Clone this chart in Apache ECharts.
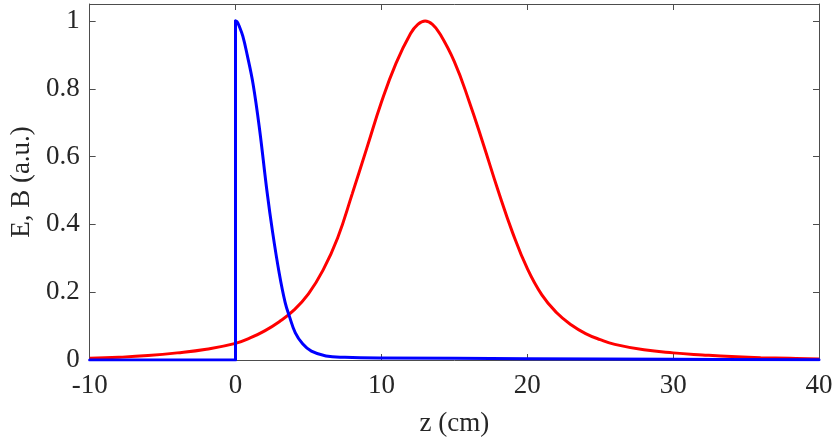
<!DOCTYPE html>
<html>
<head>
<meta charset="utf-8">
<script src="https://cdn.jsdelivr.net/npm/echarts@6/dist/echarts.min.js"></script>
<style>
    html, body { margin: 0; padding: 0; background: #fff; }
    #chart { width: 838px; height: 446px; }
</style>
</head>
<body>
<div id="chart"></div>
<script>
// red curve (E)
var redZ = [-10, -8, -6, -4, -2, 0, 1, 2, 3, 4, 5, 6, 7, 8, 9, 10, 11, 12, 12.5, 13, 13.5, 14, 15, 16, 17, 18, 19, 20, 21, 22, 23, 24, 25, 26, 28, 30, 32, 34, 36, 38, 40]
var redV = [0.005, 0.008, 0.013, 0.021, 0.032, 0.049, 0.065, 0.086, 0.113, 0.147, 0.195, 0.265, 0.36, 0.49, 0.625, 0.76, 0.875, 0.963, 0.99, 1.0, 0.99, 0.963, 0.88, 0.765, 0.635, 0.5, 0.375, 0.27, 0.192, 0.14, 0.104, 0.078, 0.06, 0.046, 0.03, 0.021, 0.015, 0.01, 0.007, 0.005, 0.003]

// blue curve (B): zero before the front, then the jump at z = 0
var blueFrontZ = [-10, 0, 0]
var blueFrontV = [0, 0, 1]
// blue decay after the front
var blueZ = [0, 0.1, 0.25, 0.5, 0.8, 1.2, 1.65, 2.15, 2.55, 3.0, 3.4, 3.7, 4.1, 4.6, 5.2, 6.2, 7.5, 10, 20, 30, 40]
var blueV = [1, 0.998, 0.985, 0.955, 0.9, 0.815, 0.68, 0.5, 0.375, 0.255, 0.17, 0.128, 0.08, 0.048, 0.026, 0.012, 0.008, 0.006, 0.004, 0.002, 0.001]

var xTicks = [-10, 0, 10, 20, 30, 40]
var yTicks = [0, 0.2, 0.4, 0.6, 0.8, 1]

function zip(a, b) {
    return a.map(function(v, i) { return [v, b[i]] })
}

var font = 'Liberation Serif'
var axisColor = '#4d4d4d'
var textColor = '#262626'

function frameAxis(extra) {
    var base = {
        type: 'value',
        axisLine: { show: true, onZero: false, lineStyle: { color: axisColor, width: 1 } },
        axisTick: { show: true, inside: true, length: 6, lineStyle: { color: axisColor } },
        axisLabel: { show: false },
        splitLine: { show: false }
    }
    return Object.assign(base, extra)
}

var myChart = echarts.init(document.getElementById('chart'))
var option = {
    animation: false,
    grid: { left: 86, right: 19, top: 4, bottom: 86 },
    xAxis: [
        frameAxis({
            min: xTicks[0],
            max: xTicks[xTicks.length - 1],
            interval: 10,
            name: 'z (cm)',
            nameLocation: 'middle',
            nameGap: 50,
            nameTextStyle: { fontFamily: font, fontSize: 27, color: textColor },
            axisLabel: { fontFamily: font, fontSize: 27, color: textColor, margin: 12 }
        }),
        frameAxis({
            position: 'top',
            min: xTicks[0],
            max: xTicks[xTicks.length - 1],
            interval: 10
        })
    ],
    yAxis: [
        frameAxis({
            min: 0,
            max: 1.05,
            interval: 0.2,
            name: 'E, B (a.u.)',
            nameLocation: 'middle',
            nameGap: 52,
            nameTextStyle: { fontFamily: font, fontSize: 27, color: textColor },
            axisLabel: {
                fontFamily: font, fontSize: 27, color: textColor, margin: 10,
                showMaxLabel: false,
                formatter: function(v) {
                    return yTicks.indexOf(+v.toFixed(1)) >= 0 && v <= 1.001 ? String(+v.toFixed(1)) : ''
                }
            }
        }),
        frameAxis({
            position: 'right',
            min: 0,
            max: 1.05,
            interval: 0.2
        })
    ],
    series: [
        {
            name: 'E',
            type: 'line',
            data: zip(redZ, redV),
            showSymbol: false,
            smooth: 0.45,
            lineStyle: { color: '#ff0000', width: 3 },
            z: 2
        },
        {
            name: 'B front',
            type: 'line',
            data: zip(blueFrontZ, blueFrontV),
            showSymbol: false,
            smooth: false,
            lineStyle: { color: '#0000ff', width: 3, cap: 'round', join: 'round' },
            z: 3
        },
        {
            name: 'B',
            type: 'line',
            data: zip(blueZ, blueV),
            showSymbol: false,
            smooth: 0.4,
            lineStyle: { color: '#0000ff', width: 3, cap: 'round', join: 'round' },
            z: 3
        }
    ]
}
myChart.setOption(option)

window.addEventListener('resize', function() {
    myChart.resize()
})
</script>
</body>
</html>
